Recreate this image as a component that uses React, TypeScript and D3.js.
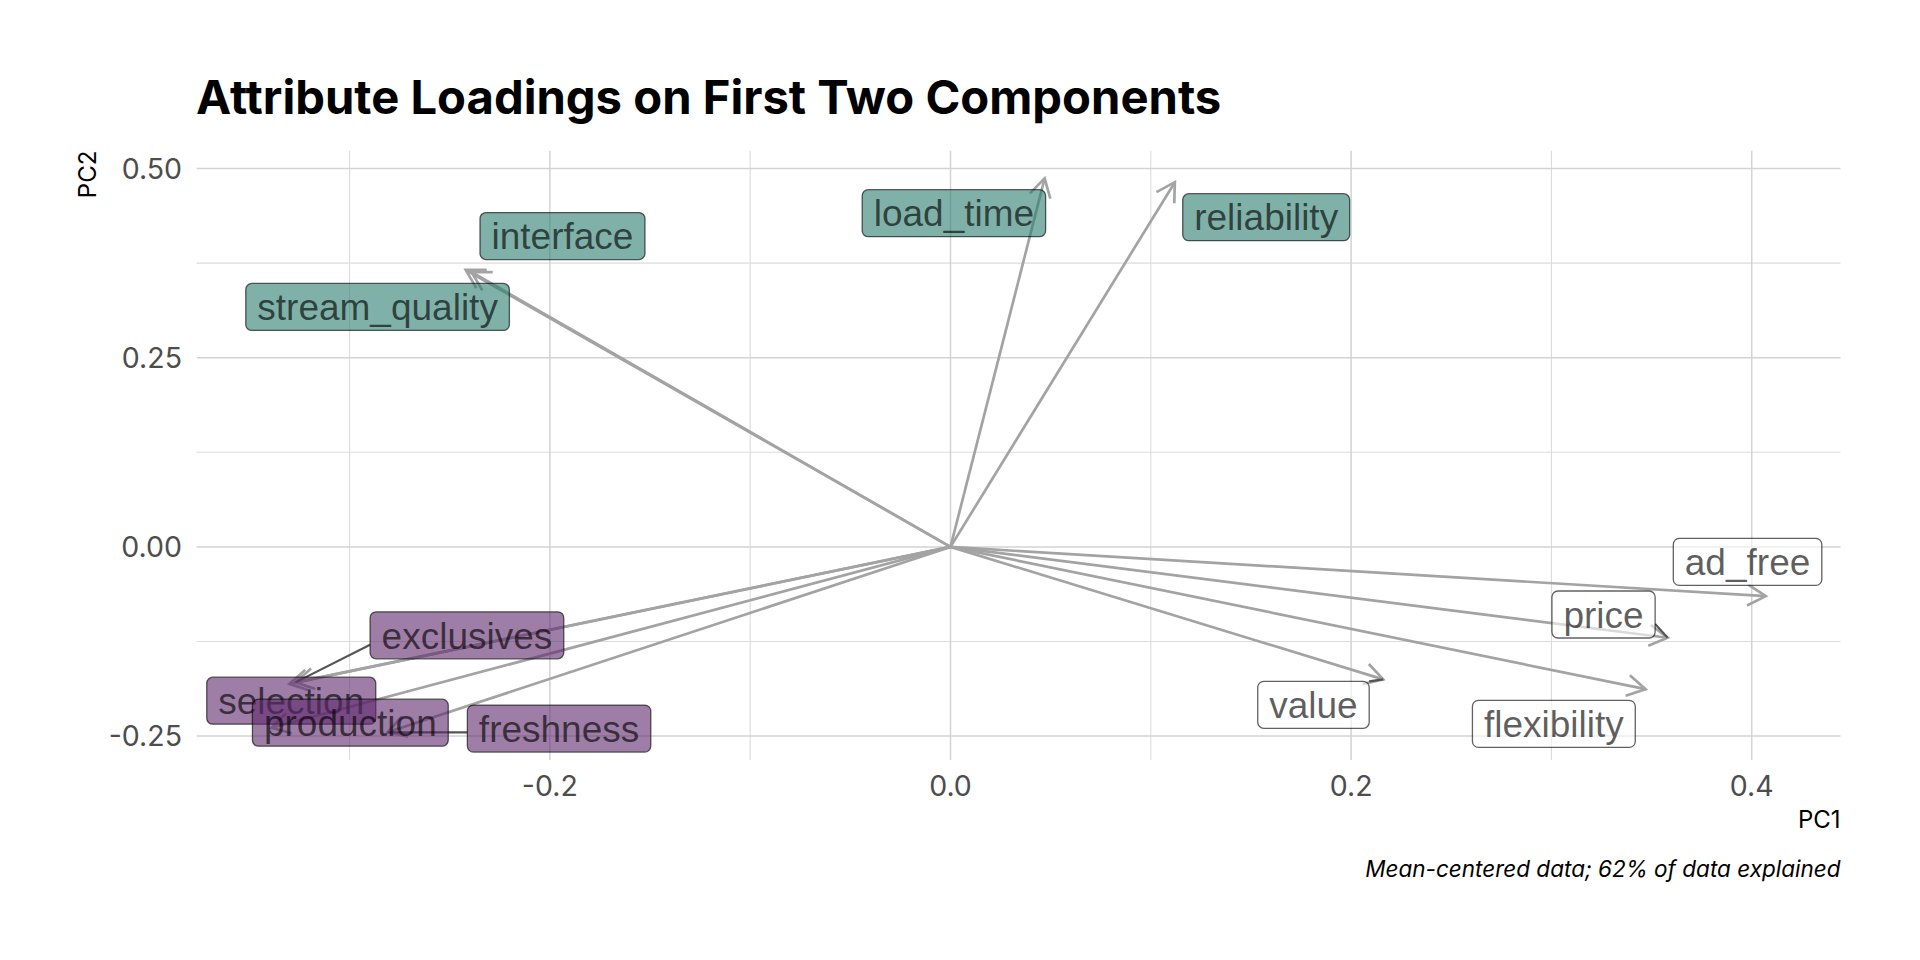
import { useEffect, useRef } from 'react'
import * as d3 from 'd3'

// loadings
const attributes = ['load_time', 'reliability', 'interface', 'stream_quality', 'ad_free', 'price', 'value', 'flexibility', 'exclusives', 'selection', 'production', 'freshness']
const pc1 = [0.047, 0.112, -0.242, -0.239, 0.407, 0.358, 0.216, 0.347, -0.327, -0.330, -0.339, -0.281]
const pc2 = [0.487, 0.482, 0.366, 0.363, -0.065, -0.120, -0.175, -0.188, -0.179, -0.181, -0.239, -0.245]
const groups = ['tech', 'tech', 'tech', 'tech', 'cost', 'cost', 'cost', 'cost', 'content', 'content', 'content', 'content']

// where the repelled labels ended up (data units)
const labelPc1 = [0.0017, 0.1576, -0.1937, -0.2860, 0.3979, 0.3260, 0.1812, 0.3012, -0.2414, -0.3291, -0.2996, -0.1954]
const labelPc2 = [0.4410, 0.4357, 0.4108, 0.3171, -0.0198, -0.0893, -0.2087, -0.2339, -0.1168, -0.2032, -0.2323, -0.2401]
const segmentLabels = ['exclusives', 'freshness', 'price', 'value']

const xMajor = [-0.2, 0, 0.2, 0.4]
const xMinor = [-0.3, -0.1, 0.1, 0.3]
const yMajor = [-0.25, 0, 0.25, 0.5]
const yMinor = [-0.125, 0.125, 0.375]

const title = 'Attribute Loadings on First Two Components'
const caption = 'Mean-centered data; 62% of data explained'

const groupFill: Record<string, string> = {
  tech: '#2b7d6e',
  content: '#5d286c',
  cost: '#ffffff',
}

const W = 1920
const H = 960

export default function App() {
  const svgRef = useRef<SVGSVGElement>(null)

  useEffect(() => {
    document.body.style.margin = '0'
    if (!svgRef.current) return
    const svg = d3.select(svgRef.current)
    svg.selectAll('*').remove()

    const panel = { left: 196.7, right: 1840.5, top: 150.7, bottom: 760 }

    const expand = (vals: number[]) => {
      const lo = Math.min(0, d3.min(vals)!)
      const hi = Math.max(0, d3.max(vals)!)
      const pad = (hi - lo) * 0.05
      return [lo - pad, hi + pad]
    }

    const x = d3.scaleLinear().domain(expand(pc1)).range([panel.left, panel.right])
    const y = d3.scaleLinear().domain(expand(pc2)).range([panel.bottom, panel.top])

    svg.append('rect').attr('width', W).attr('height', H).attr('fill', '#ffffff')

    // grid
    const grid = svg.append('g')
    grid.selectAll('.vminor').data(xMinor).join('line')
      .attr('x1', d => x(d)).attr('x2', d => x(d))
      .attr('y1', panel.top).attr('y2', panel.bottom)
      .attr('stroke', '#dcdcdc').attr('stroke-width', 1.1)
    grid.selectAll('.hminor').data(yMinor).join('line')
      .attr('x1', panel.left).attr('x2', panel.right)
      .attr('y1', d => y(d)).attr('y2', d => y(d))
      .attr('stroke', '#dcdcdc').attr('stroke-width', 1.1)
    grid.selectAll('.vmajor').data(xMajor).join('line')
      .attr('x1', d => x(d)).attr('x2', d => x(d))
      .attr('y1', panel.top).attr('y2', panel.bottom)
      .attr('stroke', '#d3d3d3').attr('stroke-width', 1.5)
    grid.selectAll('.hmajor').data(yMajor).join('line')
      .attr('x1', panel.left).attr('x2', panel.right)
      .attr('y1', d => y(d)).attr('y2', d => y(d))
      .attr('stroke', '#d3d3d3').attr('stroke-width', 1.5)

    // tick labels
    svg.append('g').selectAll('text').data(yMajor).join('text')
      .attr('x', 182).attr('y', d => y(d) + 10)
      .attr('text-anchor', 'end')
      .attr('font-family', 'Inter').attr('font-size', 28.5).attr('fill', '#4d4d4d')
      .text(d => d.toFixed(2))
    svg.append('g').selectAll('text').data(xMajor).join('text')
      .attr('x', d => x(d)).attr('y', 796)
      .attr('text-anchor', 'middle')
      .attr('font-family', 'Inter').attr('font-size', 28.5).attr('fill', '#4d4d4d')
      .text(d => d.toFixed(1))

    // axis titles
    svg.append('text')
      .attr('x', panel.right).attr('y', 828)
      .attr('text-anchor', 'end')
      .attr('font-family', 'Inter').attr('font-size', 24).attr('fill', '#000')
      .text('PC1')
    svg.append('text')
      .attr('transform', `translate(96,${panel.top}) rotate(-90)`)
      .attr('text-anchor', 'end')
      .attr('font-family', 'Inter').attr('font-size', 24).attr('fill', '#000')
      .text('PC2')

    // arrows from the origin
    const ox = x(0)
    const oy = y(0)
    const headLen = 21
    const headAng = Math.PI / 6
    const arrowColor = '#a3a3a3'
    const arrows = svg.append('g')
    attributes.forEach((_, i) => {
      const tx = x(pc1[i])
      const ty = y(pc2[i])
      const th = Math.atan2(ty - oy, tx - ox)
      arrows.append('line')
        .attr('x1', ox).attr('y1', oy).attr('x2', tx).attr('y2', ty)
        .attr('stroke', arrowColor).attr('stroke-width', 2.7)
      const h1 = [tx - headLen * Math.cos(th - headAng), ty - headLen * Math.sin(th - headAng)]
      const h2 = [tx - headLen * Math.cos(th + headAng), ty - headLen * Math.sin(th + headAng)]
      arrows.append('path')
        .attr('d', `M${h1[0]},${h1[1]}L${tx},${ty}L${h2[0]},${h2[1]}`)
        .attr('fill', 'none').attr('stroke', arrowColor).attr('stroke-width', 2.7)
    })

    // labels
    const fontSize = 37
    const padX = 11.5
    const boxH = 47
    const segs = svg.append('g')
    const labels = svg.append('g')
    attributes.forEach((name, i) => {
      const cx = x(labelPc1[i])
      const cy = y(labelPc2[i])
      const g = labels.append('g')
      const rect = g.append('rect')
      const txt = g.append('text')
        .attr('x', cx).attr('y', cy + fontSize * 0.358)
        .attr('text-anchor', 'middle')
        .attr('font-family', '"Liberation Sans", Arial, sans-serif')
        .attr('font-size', fontSize)
        .attr('fill', '#000').attr('fill-opacity', 0.64)
        .text(name)
      const tw = (txt.node() as SVGTextElement).getComputedTextLength()
      const bw = tw + padX * 2
      const x0 = cx - bw / 2
      const y0 = cy - boxH / 2
      rect
        .attr('x', x0).attr('y', y0)
        .attr('width', bw).attr('height', boxH)
        .attr('rx', 6).attr('ry', 6)
        .attr('fill', groupFill[groups[i]]).attr('fill-opacity', 0.6)
        .attr('stroke', '#000').attr('stroke-opacity', 0.62).attr('stroke-width', 1.3)

      if (segmentLabels.includes(name)) {
        const px = x(pc1[i])
        const py = y(pc2[i])
        const nx = Math.max(x0, Math.min(x0 + bw, px))
        const ny = Math.max(y0, Math.min(y0 + boxH * 0.7, py))
        segs.append('line')
          .attr('x1', nx).attr('y1', ny).attr('x2', px).attr('y2', py)
          .attr('stroke', '#555555').attr('stroke-width', 2.2)
      }
    })

    // title and caption
    svg.append('text')
      .attr('x', 196).attr('y', 114)
      .attr('font-family', 'Inter').attr('font-weight', 700).attr('font-size', 47.2)
      .attr('fill', '#000')
      .text(title)
    svg.append('text')
      .attr('x', panel.right).attr('y', 877)
      .attr('text-anchor', 'end')
      .attr('font-family', 'Inter').attr('font-style', 'italic').attr('font-size', 22.5)
      .attr('fill', '#000')
      .text(caption)
  }, [])

  return <svg ref={svgRef} width={W} height={H} style={{ display: 'block' }} />
}
